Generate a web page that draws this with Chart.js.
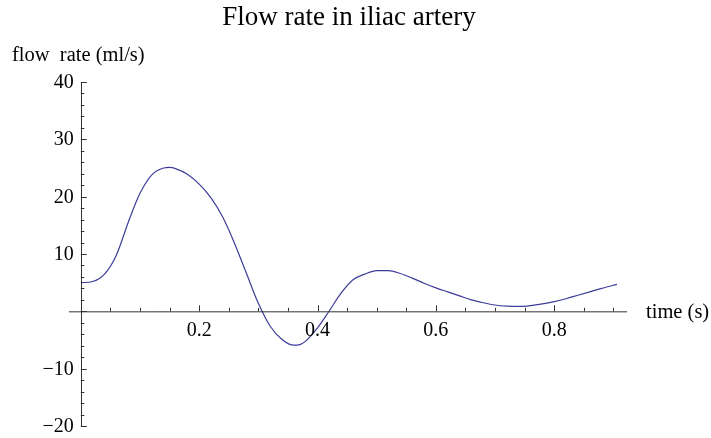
<!DOCTYPE html>
<html>
<head>
<meta charset="utf-8">
<script src="https://cdn.jsdelivr.net/npm/chart.js@4"></script>
<style>
  html, body { margin: 0; padding: 0; background: #fff; }
  #wrap { width: 711px; height: 438px; }
</style>
</head>
<body>
<div id="wrap"><canvas id="grafico"></canvas></div>
<script>
// dados
const tempos = [0, 0.02, 0.04, 0.06, 0.08, 0.09, 0.10, 0.12, 0.14, 0.15, 0.16, 0.18, 0.20,
  0.22, 0.24, 0.26, 0.28, 0.30, 0.32, 0.34, 0.36, 0.37, 0.38, 0.40, 0.42, 0.44, 0.46,
  0.48, 0.50, 0.52, 0.54, 0.56, 0.58, 0.60, 0.62, 0.64, 0.66, 0.68, 0.70, 0.72, 0.74,
  0.76, 0.78, 0.80, 0.82, 0.84, 0.86, 0.88, 0.906];
const fluxo = [5.0, 5.2, 6.5, 9.8, 15.5, 18.2, 20.6, 23.8, 25.0, 25.1, 24.9, 23.9, 22.2,
  19.8, 16.4, 11.8, 6.6, 1.4, -2.6, -4.9, -5.9, -5.8, -5.2, -2.9, 0.1, 3.2, 5.5,
  6.5, 7.1, 7.1, 6.6, 5.8, 4.9, 4.1, 3.4, 2.7, 2.0, 1.5, 1.1, 0.9, 0.85,
  1.0, 1.3, 1.7, 2.2, 2.8, 3.4, 4.0, 4.7];

const ticksX = [0.2, 0.4, 0.6, 0.8];
const ticksY = [-20, -10, 10, 20, 30, 40];

const titulo = "Flow rate in iliac artery";
const rotuloY = "flow  rate (ml/s)";
const rotuloX = "time (s)";

// eixos no estilo Mathematica, desenhados sobre as escalas do Chart.js
const eixos = {
  id: "eixos",
  afterDatasetsDraw(chart) {
    const c = chart.ctx;
    const sx = chart.scales.x;
    const sy = chart.scales.y;
    const x0 = sx.getPixelForValue(0);
    const y0 = sy.getPixelForValue(0);
    const serif = '"Liberation Serif", "Times New Roman", serif';

    c.save();
    c.strokeStyle = "#333";
    c.lineWidth = 1;

    // eixo x
    c.beginPath();
    c.moveTo(sx.left, y0 + 0.5);
    c.lineTo(sx.right, y0 + 0.5);
    c.stroke();

    // eixo y
    c.beginPath();
    c.moveTo(Math.round(x0) + 0.5, sy.top);
    c.lineTo(Math.round(x0) + 0.5, sy.bottom);
    c.stroke();

    // marcas em x (a cada 0.05)
    for (let i = 1; i <= 18; i++) {
      const v = i * 0.05;
      const px = Math.round(sx.getPixelForValue(v)) + 0.5;
      const len = (i % 4 === 0) ? 6 : 3.5;
      c.beginPath();
      c.moveTo(px, y0);
      c.lineTo(px, y0 - len);
      c.stroke();
    }

    // marcas em y (a cada 2)
    for (let v = -20; v <= 40; v += 2) {
      const py = Math.round(sy.getPixelForValue(v)) + 0.5;
      const len = (v % 10 === 0) ? 6 : 3.5;
      c.beginPath();
      c.moveTo(x0, py);
      c.lineTo(x0 + len, py);
      c.stroke();
    }

    // rótulos
    c.fillStyle = "#000";
    c.font = "20px " + serif;
    c.textAlign = "center";
    c.textBaseline = "alphabetic";
    ticksX.forEach(v => {
      c.fillText(String(v), sx.getPixelForValue(v), y0 + 25);
    });
    c.textAlign = "right";
    ticksY.forEach(v => {
      const txt = v < 0 ? "\u2212" + Math.abs(v) : String(v);
      c.fillText(txt, x0 - 7, sy.getPixelForValue(v) + 6);
    });

    c.textAlign = "left";
    c.font = "20.5px " + serif;
    c.fillText(rotuloX, sx.right + 19, y0 + 7);
    c.fillText(rotuloY, 12, 61);

    c.textAlign = "center";
    c.font = "27px " + serif;
    c.fillText(titulo, 349, 25);
    c.restore();
  }
};

const ctx = document.getElementById("grafico");

new Chart(ctx, {
  type: "line",
  data: {
    datasets: [{
      data: tempos.map((t, i) => ({ x: t, y: fluxo[i] })),
      borderColor: "#3d3d99",
      borderWidth: 1.2,
      pointRadius: 0,
      cubicInterpolationMode: "monotone",
      fill: false
    }]
  },
  options: {
    responsive: true,
    maintainAspectRatio: false,
    animation: false,
    layout: {
      padding: { left: 69, right: 84, top: 82, bottom: 12 }
    },
    plugins: {
      legend: { display: false },
      tooltip: { enabled: false }
    },
    scales: {
      x: { type: "linear", display: false, min: -0.02, max: 0.923 },
      y: { type: "linear", display: false, min: -20, max: 40 }
    }
  },
  plugins: [eixos]
});
</script>
</body>
</html>
